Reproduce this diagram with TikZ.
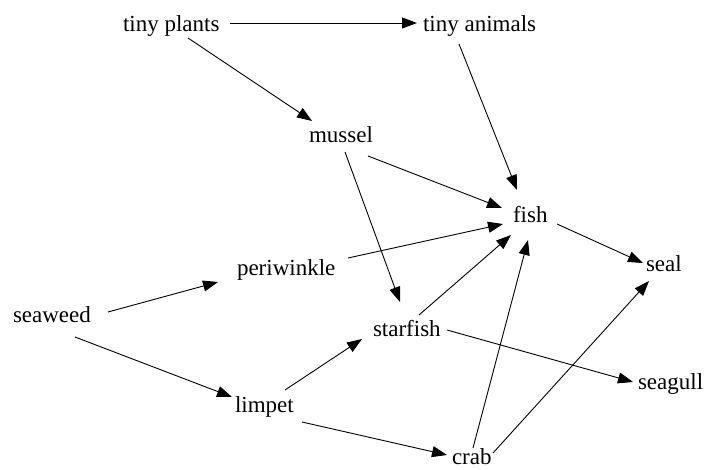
\documentclass[tikz,border=0pt]{standalone}
\usepackage{fontspec}
\setmainfont{Liberation Serif}
\usetikzlibrary{arrows.meta}
\begin{document}
\begin{tikzpicture}[x=1pt,y=-1pt,
  lbl/.style={inner sep=0pt,outer sep=0pt,anchor=base west,font=\fontsize{23}{27}\selectfont},
  arr/.style={line width=0.9pt,-{Triangle[length=15pt,width=11pt]}}]
\useasboundingbox[fill=white] (0,0) rectangle (704,470);
\node[lbl] (tp) at (123,32) {tiny plants};
\node[lbl] (ta) at (423,32) {tiny animals};
\node[lbl] (mu) at (309,143) {mussel};
\node[lbl] (fi) at (513,223) {fish};
\node[lbl] (se) at (646,272) {seal};
\node[lbl] (sg) at (638,389) {seagull};
\node[lbl] (pw) at (237,276) {periwinkle};
\node[lbl] (sw) at (13,323) {seaweed};
\node[lbl] (sf) at (373,337) {starfish};
\node[lbl] (li) at (235,412) {limpet};
\node[lbl] (cr) at (452,464) {crab};
\draw[arr] ([shift={(107,-9)}]tp.base west) -- ([shift={(-6,-9)}]ta.base west);
\draw[arr] ([shift={(65,6)}]tp.base west) -- ([shift={(3,-22)}]mu.base west);
\draw[arr] ([shift={(36,12)}]ta.base west) -- ([shift={(4,-33)}]fi.base west);
\draw[arr] ([shift={(59,13)}]mu.base west) -- ([shift={(-11,-15)}]fi.base west);
\draw[arr] ([shift={(36,9)}]mu.base west) -- ([shift={(27,-35)}]sf.base west);
\draw[arr] ([shift={(111,-18)}]pw.base west) -- ([shift={(-10,1)}]fi.base west);
\draw[arr] ([shift={(46,-22)}]sf.base west) -- ([shift={(-2,12)}]fi.base west);
\draw[arr] ([shift={(21,-16)}]cr.base west) -- ([shift={(15,17)}]fi.base west);
\draw[arr] ([shift={(44,1)}]fi.base west) -- ([shift={(-3,-9)}]se.base west);
\draw[arr] ([shift={(41,-11)}]cr.base west) -- ([shift={(3,9)}]se.base west);
\draw[arr] ([shift={(74,-7)}]sf.base west) -- ([shift={(-5,-7)}]sg.base west);
\draw[arr] ([shift={(95,-11)}]sw.base west) -- ([shift={(-19,6)}]pw.base west);
\draw[arr] ([shift={(62,14)}]sw.base west) -- ([shift={(-3,-15)}]li.base west);
\draw[arr] ([shift={(50,-22)}]li.base west) -- ([shift={(-11,2)}]sf.base west);
\draw[arr] ([shift={(67,10)}]li.base west) -- ([shift={(-5,-9)}]cr.base west);
\end{tikzpicture}
\end{document}
